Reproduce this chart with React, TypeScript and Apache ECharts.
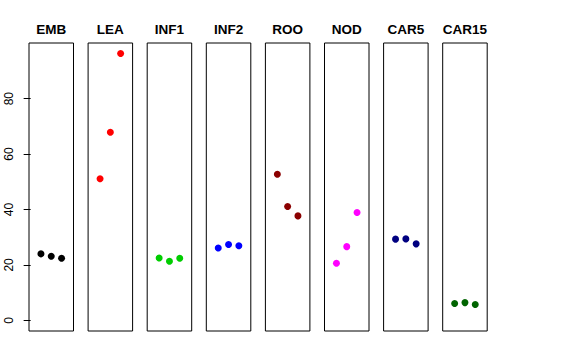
import React, { useEffect, useRef } from "react";
import * as echarts from "echarts";

const panels = ["EMB", "LEA", "INF1", "INF2", "ROO", "NOD", "CAR5", "CAR15"];
const colors = ["#000000", "#FF0000", "#00CD00", "#0000FF", "#8B0000", "#FF00FF", "#000080", "#006400"];
const positions = [1, 2, 3];
const valuesEMB = [24.0, 23.1, 22.4];
const valuesLEA = [51.1, 67.9, 96.3];
const valuesINF1 = [22.5, 21.3, 22.4];
const valuesINF2 = [26.1, 27.4, 26.9];
const valuesROO = [52.7, 41.1, 37.7];
const valuesNOD = [20.6, 26.6, 38.9];
const valuesCAR5 = [29.3, 29.4, 27.6];
const valuesCAR15 = [6.1, 6.4, 5.7];
const allValues = [valuesEMB, valuesLEA, valuesINF1, valuesINF2, valuesROO, valuesNOD, valuesCAR5, valuesCAR15];
const yTicks = [0, 20, 40, 60, 80];

export default function App() {
  const ref = useRef<HTMLDivElement>(null);
  useEffect(() => {
    if (!ref.current) return;
    const chart = echarts.init(ref.current, null, { renderer: "svg" });
    const lefts = panels.map((_, i) => 29 + i * 59.1);
    const W = 44.5;
    const grids = panels.map((_, i) => ({
      left: lefts[i], top: 43, width: W, height: 288,
      show: true, borderColor: "#000", borderWidth: 1, backgroundColor: "transparent",
    }));
    const xAxes = panels.map((_, i) => ({
      type: "value", gridIndex: i, min: -0.16, max: 4.16, show: false,
    }));
    const yAxes = panels.map((_, i) => ({
      type: "value", gridIndex: i, min: -3.85, max: 100.1,
      show: i === 0,
      splitLine: { show: false },
      axisLine: { show: false },
      axisTick: { show: true, length: 7, customValues: yTicks, lineStyle: { color: "#000" } },
      axisLabel: {
        show: true, customValues: yTicks, rotate: 90, margin: 14,
        color: "#000", fontSize: 12, fontFamily: "Liberation Sans",
      },
    }));
    const series = panels.map((_, i) => ({
      type: "scatter", xAxisIndex: i, yAxisIndex: i,
      symbol: "circle", symbolSize: 7,
      itemStyle: { color: colors[i], opacity: 1 },
      data: positions.map((p, j) => [p, allValues[i][j]]),
    }));
    const titles = panels.map((name, i) => ({
      text: name, left: lefts[i] + W / 2, top: 20, textAlign: "center",
      textStyle: { fontSize: 13.5, fontWeight: "bold", color: "#000", fontFamily: "Liberation Sans", lineHeight: 18 },
    }));
    chart.setOption({
      animation: false,
      backgroundColor: "#fff",
      title: titles.map((t) => ({ ...t, padding: 0 })),
      grid: grids,
      xAxis: xAxes,
      yAxis: yAxes,
      series,
    });
    return () => chart.dispose();
  }, []);
  return <div ref={ref} style={{ width: 576, height: 360, position: "absolute", left: 0, top: 0 }} />;
}
